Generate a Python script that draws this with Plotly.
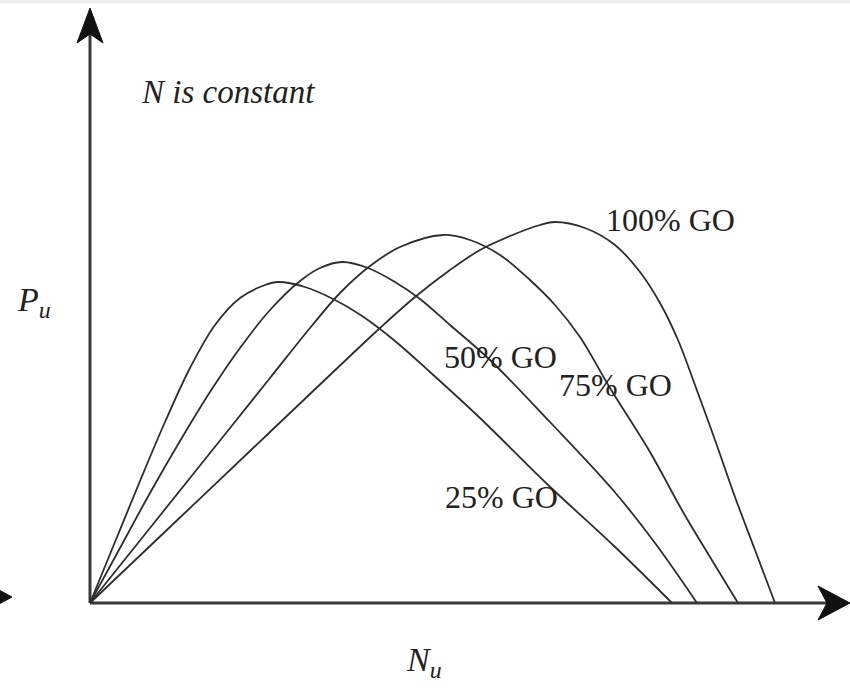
import plotly.graph_objects as go

# Data (arbitrary units: Nu horizontal, Pu vertical)
nu_25 = [0, 25, 50, 75, 100, 125, 150, 175, 188, 215, 245, 275, 305, 340, 390, 457, 523, 582]
pu_25 = [0, 61, 122, 181, 235, 278, 305, 318, 321, 316, 303, 285, 262, 231, 185, 119, 58, 0]

nu_50 = [0, 30, 60, 90, 120, 150, 180, 210, 230, 252, 278, 305, 330, 360, 400, 460, 523, 565, 607]
pu_50 = [0, 55, 110, 162, 211, 255, 293, 322, 335, 341, 335, 321, 304, 278, 243, 181, 113, 60, 0]

nu_75 = [0, 60, 120, 180, 220, 250, 280, 310, 353, 380, 410, 440, 465, 490, 520, 560, 593, 620, 648]
pu_75 = [0, 75, 150, 225, 275, 310, 337, 356, 368, 363, 348, 323, 298, 266, 215, 151, 91, 46, 0]

nu_100 = [0, 80, 160, 240, 290, 325, 360, 390, 420, 450, 465, 495, 525, 550, 570, 588, 605, 625, 645, 665, 685]
pu_100 = [0, 76, 152, 228, 275, 306, 333, 353, 367, 378, 381, 375, 358, 331, 300, 263, 218, 163, 106, 53, 0]

series = [(nu_25, pu_25), (nu_50, pu_50), (nu_75, pu_75), (nu_100, pu_100)]

labels = ["25% GO", "50% GO", "75% GO", "100% GO"]
label_pos = [(411, 106), (410, 246), (525, 218), (580, 383)]

fig = go.Figure()
for nu, pu in series:
    fig.add_trace(go.Scatter(x=nu, y=pu, mode="lines",
                             line=dict(color="#2e2e2e", width=1.8, shape="spline", smoothing=1.0),
                             showlegend=False, hoverinfo="skip"))

serif = "Liberation Serif, Times New Roman, serif"
for t, (x, y) in zip(labels, label_pos):
    fig.add_annotation(x=x, y=y, text=t, showarrow=False,
                       font=dict(family=serif, size=32, color="#222"))

fig.add_annotation(x=138, y=511, text="<i>N is constant</i>", showarrow=False,
                   font=dict(family=serif, size=33, color="#222"))
fig.add_annotation(x=-56, y=301, text="<i>P</i><sub><i>u</i></sub>", showarrow=False,
                   font=dict(family=serif, size=34, color="#222"))
fig.add_annotation(x=334, y=-59, text="<i>N</i><sub><i>u</i></sub>", showarrow=False,
                   font=dict(family=serif, size=34, color="#222"))

axis_col = "#3a3a3a"
# axes lines
fig.add_shape(type="line", x0=0, y0=0, x1=740, y1=0, line=dict(color=axis_col, width=3), layer="below")
fig.add_shape(type="line", x0=0, y0=0, x1=0, y1=572, line=dict(color=axis_col, width=3), layer="below")
# arrowheads
fig.add_shape(type="path", path="M 760 0 L 728 17 L 737 0 L 728 -17 Z",
              fillcolor="#111", line=dict(color="#111", width=1))
fig.add_shape(type="path", path="M 0 595 L -13 560 L 0 569 L 13 560 Z",
              fillcolor="#111", line=dict(color="#111", width=1))
fig.add_shape(type="path", path="M -78 6 L -104 20 L -97 6 L -104 -8 Z",
              fillcolor="#111", line=dict(color="#111", width=1))
# faint top strip
fig.add_shape(type="rect", xref="paper", yref="paper", x0=0, x1=1, y0=0.995, y1=1.0,
              fillcolor="#eeeeee", line=dict(width=0), layer="below")

fig.update_xaxes(range=[-90, 760], visible=False)
fig.update_yaxes(range=[-89, 603], visible=False)
fig.update_layout(width=850, height=692, margin=dict(l=0, r=0, t=0, b=0),
                  plot_bgcolor="white", paper_bgcolor="white")
fig.write_html("out.html")
